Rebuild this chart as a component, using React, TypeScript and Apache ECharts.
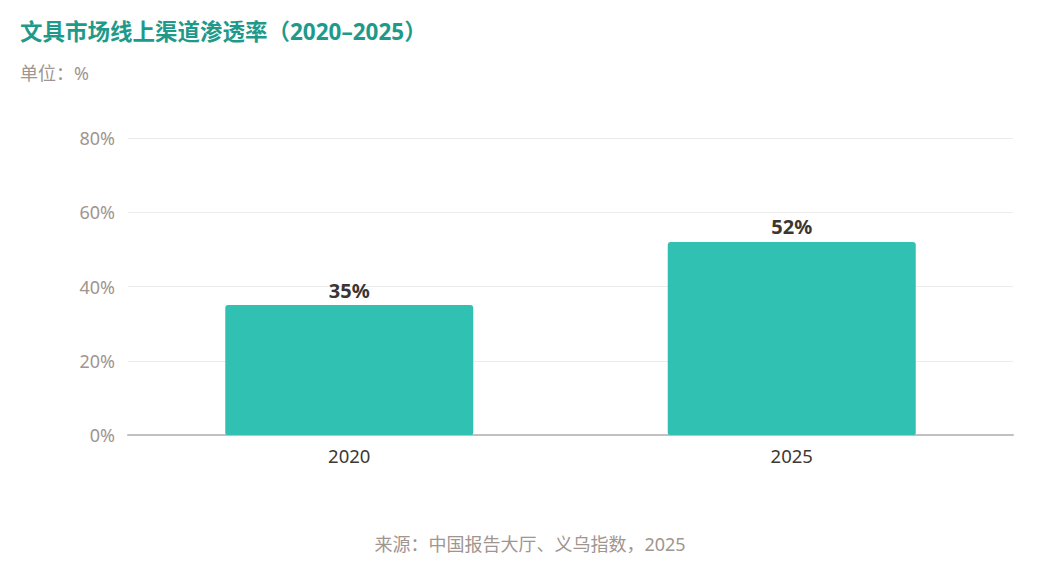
import React, { useEffect, useRef } from "react";
import * as echarts from "echarts";

const categories = ["2020", "2025"];
const values = [35, 52];
const yTicks = [0, 20, 40, 60, 80];

const FONT = "'Noto Sans', 'Noto Sans CJK SC', sans-serif";

export default function App() {
  const ref = useRef<HTMLDivElement>(null);
  useEffect(() => {
    document.body.style.margin = "0";
    const chart = echarts.init(ref.current!, null, { renderer: "svg" });
    chart.setOption({
      animation: false,
      textStyle: { fontFamily: FONT },
      title: [
        {
          text: "文具市场线上渠道渗透率（2020–2025）",
          left: 15,
          top: 15,
          textStyle: { fontSize: 22.5, fontWeight: "bold", color: "#1e9a8b", fontFamily: FONT },
        },
        {
          text: "单位：%",
          left: 15,
          top: 59,
          textStyle: { fontSize: 18, fontWeight: "normal", color: "#a0958f", fontFamily: FONT },
        },
        {
          text: "来源：中国报告大厅、义乌指数，2025",
          left: "center",
          top: 530,
          textStyle: { fontSize: 18, fontWeight: "normal", color: "#a0958f", fontFamily: FONT },
        },
      ],
      grid: { left: 128, right: 47, top: 138, bottom: 131 },
      xAxis: {
        type: "category",
        data: categories,
        axisTick: { show: false },
        axisLine: { lineStyle: { color: "#c2c0c0", width: 2 } },
        axisLabel: { fontSize: 18.5, color: "#3d3835", margin: 11, fontFamily: FONT },
      },
      yAxis: {
        type: "value",
        min: yTicks[0],
        max: yTicks[yTicks.length - 1],
        interval: 20,
        axisLine: { show: false },
        axisTick: { show: false },
        splitLine: { lineStyle: { color: "#ececec", width: 1 } },
        axisLabel: { fontSize: 18, color: "#a0958f", formatter: "{value}%", margin: 13, fontFamily: FONT },
      },
      series: [
        {
          type: "bar",
          data: values,
          barWidth: 248,
          itemStyle: { color: "#31c1b3", borderRadius: [3, 3, 2, 2] },
          label: {
            show: true,
            position: "top",
            formatter: "{c}%",
            fontSize: 20,
            fontWeight: "bold",
            color: "#3d3530",
            distance: 5,
            fontFamily: FONT,
          },
        },
      ],
    });
    return () => chart.dispose();
  }, []);
  return <div ref={ref} style={{ width: 1060, height: 566 }} />;
}
